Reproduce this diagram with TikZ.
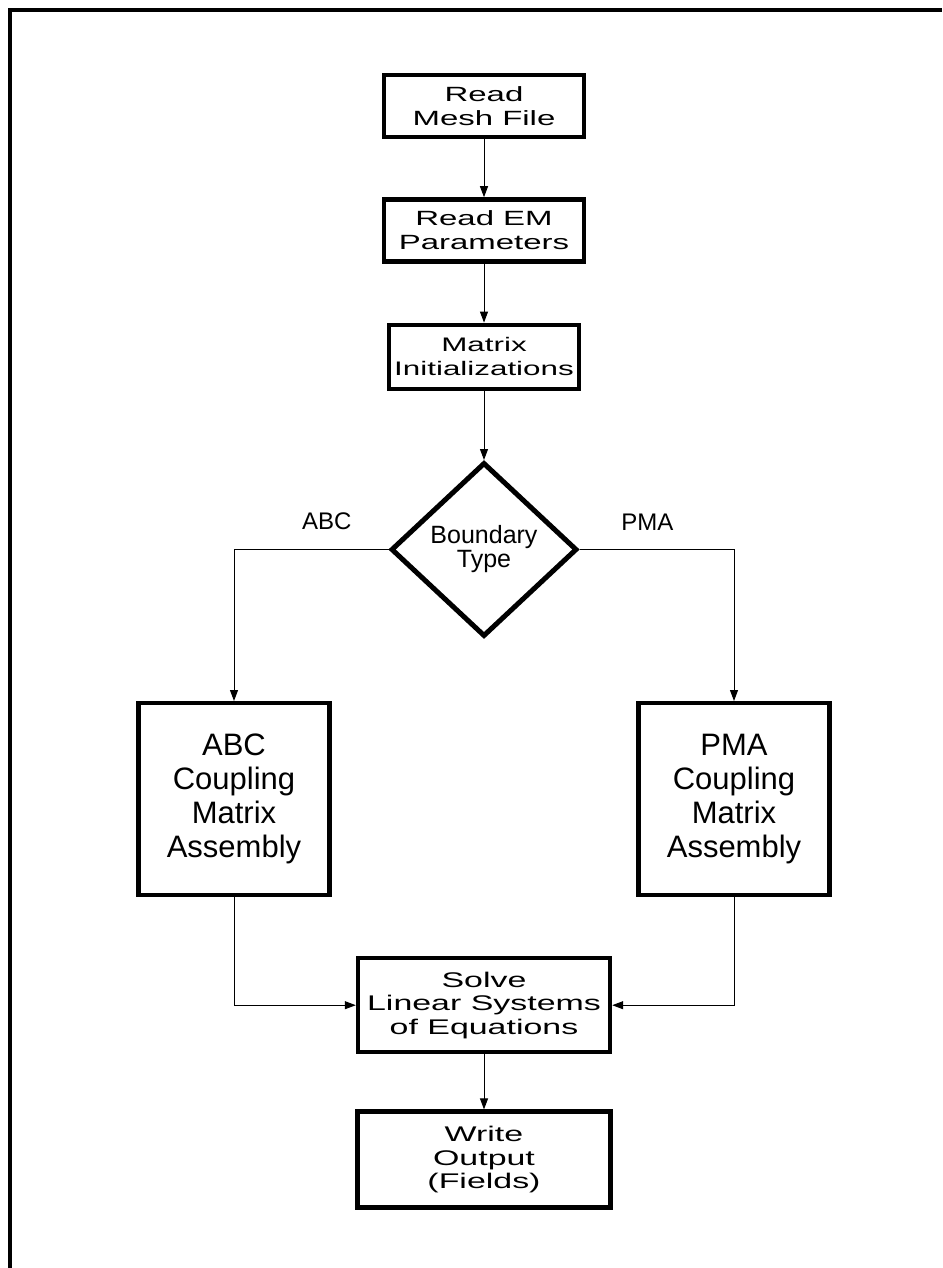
\documentclass[tikz,border=0pt]{standalone}
\usepackage{fontspec}
\setmainfont{Liberation Sans}
\newfontfamily\boxfont[FakeStretch=1.6]{Liberation Sans}
\usetikzlibrary{arrows.meta, positioning, shapes.geometric}

\begin{document}
\begin{tikzpicture}[
  x=0.5pt, y=-0.5pt,
  procbox/.style  = {rectangle, draw, line width=2.2pt, align=center, inner sep=0pt,
                     minimum width=100pt, minimum height=31pt,
                     font=\boxfont\fontsize{10.3}{12}\selectfont},
  bigbox/.style   = {rectangle, draw, line width=2.2pt, align=center, inner sep=0pt,
                     minimum width=95.5pt, minimum height=96pt,
                     font=\fontsize{15.5}{17}\selectfont},
  decision/.style = {diamond, draw, line width=2.5pt, align=center, inner sep=0pt,
                     minimum width=93pt, minimum height=87pt,
                     font=\fontsize{12.5}{12}\selectfont},
  arrow/.style    = {-{Triangle[length=5.5pt, width=4pt]}, line width=0.5pt},
  lbl/.style      = {inner sep=0pt, font=\fontsize{12}{13}\selectfont},
  node distance   = 29pt
]

% ── Page frame ───────────────────────────────────────────────────────────────
\useasboundingbox (0,0) rectangle (942,1268);
\draw[line width=2.2pt] (10,1268) -- (10,10) -- (942,10);

% ── Main chain (top → bottom) ────────────────────────────────────────────────
\node[procbox] (mesh) at (484,106) {Read\\Mesh File};
\node[procbox, below=of mesh] (emp) {Read EM\\Parameters};
\node[procbox, minimum width=95pt, minimum height=32pt, below=29.5pt of emp,
      font=\boxfont\fontsize{9.8}{12}\selectfont]
  (init) {Matrix\\Initializations};
\node[decision, below=34.5pt of init] (bnd) {Boundary\\Type};

% ── Boundary branches ────────────────────────────────────────────────────────
\node[bigbox, below=31pt of bnd, xshift=-125pt]
  (abc) {ABC\\Coupling\\Matrix\\Assembly};
\node[bigbox, below=31pt of bnd, xshift=125pt]
  (pma) {PMA\\Coupling\\Matrix\\Assembly};

% ── Solver and output ────────────────────────────────────────────────────────
\node[procbox, minimum width=126pt, minimum height=47pt, below=158.5pt of bnd,
      font=\boxfont\fontsize{10.6}{11.8}\selectfont]
  (solve) {Solve\\Linear Systems\\of Equations};
\node[procbox, minimum width=126.5pt, minimum height=48pt, below=27.5pt of solve,
      font=\boxfont\fontsize{10.6}{11.8}\selectfont]
  (out) {Write\\Output\\(Fields)};

% ── Connectors ───────────────────────────────────────────────────────────────
\draw[arrow] (mesh.south) -- (emp.north);
\draw[arrow] (emp.south) -- (init.north);
\draw[arrow] (init.south) -- (bnd.north);

\draw[arrow] (bnd.west) -| (abc.north)
  node[lbl, pos=0.2, above=9.5pt] {ABC};
\draw[arrow] (bnd.east) -| (pma.north)
  node[lbl, pos=0.22, above=9.5pt] {PMA};

\draw[arrow] (abc.south) |- (solve.west);
\draw[arrow] (pma.south) |- (solve.east);
\draw[arrow] (solve.south) -- (out.north);

\end{tikzpicture}
\end{document}
